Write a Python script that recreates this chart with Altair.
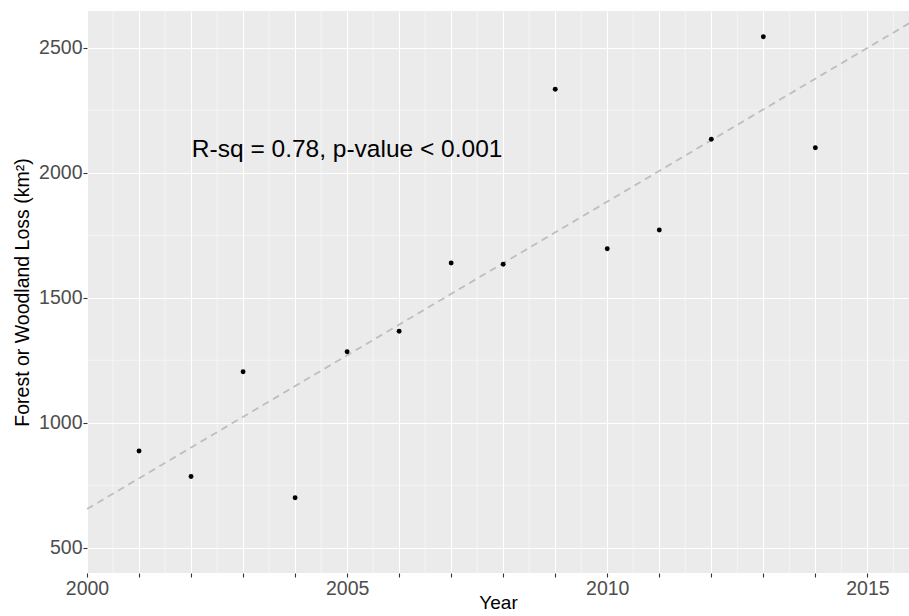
import altair as alt
import pandas as pd

# Data
years = [2001, 2002, 2003, 2004, 2005, 2006, 2007, 2008, 2009, 2010, 2011, 2012, 2013, 2014]
loss = [887, 785, 1204, 700, 1284, 1366, 1639, 1634, 2334, 1696, 1771, 2134, 2544, 2100]

x_domain = [2000, 2015.8]
y_domain = [399, 2647]
x_major = list(range(2000, 2016))
x_minor = [y + 0.5 for y in range(2000, 2016)]
y_major = [500, 1000, 1500, 2000, 2500]
y_minor = [750, 1250, 1750, 2250]

annot_text = ["R-sq = 0.78, p-value < 0.001"]
annot_x = [2005]
annot_y = [2090]

df = pd.DataFrame({"Year": years, "Loss": loss})
xminor_df = pd.DataFrame({"v": x_minor})
yminor_df = pd.DataFrame({"v": y_minor})
annot_df = pd.DataFrame({"t": annot_text, "x": annot_x, "y": annot_y})

FONT = "Liberation Sans"

xscale = alt.Scale(domain=x_domain, nice=False, zero=False)
yscale = alt.Scale(domain=y_domain, nice=False, zero=False)

xaxis = alt.Axis(
    values=x_major,
    labelExpr="datum.value % 5 == 0 ? datum.label : ''",
    format="d",
    grid=True, gridColor="white", gridWidth=1.1,
    domain=False, ticks=True, tickSize=4, tickColor="#333333", tickWidth=1.1,
    labelColor="#4D4D4D", labelFontSize=19.5, labelFont=FONT, labelPadding=2,
    labelFlush=False, labelOverlap=False,
    title="Year", titleFont=FONT, titleFontSize=19, titleFontWeight="normal",
    titleColor="black", titlePadding=-4,
)
yaxis = alt.Axis(
    values=y_major,
    format="d",
    grid=True, gridColor="white", gridWidth=1.1,
    domain=False, ticks=True, tickSize=4, tickColor="#333333", tickWidth=1.1,
    labelColor="#4D4D4D", labelFontSize=19.5, labelFont=FONT, labelPadding=1,
    labelFlush=False,
    title="Forest or Woodland Loss (km²)", titleFont=FONT, titleFontSize=19.5,
    titleFontWeight="normal", titleColor="black", titlePadding=6,
)

base = alt.Chart(df)

points = base.mark_circle(size=24, color="black", opacity=1).encode(
    x=alt.X("Year:Q", scale=xscale, axis=xaxis),
    y=alt.Y("Loss:Q", scale=yscale, axis=yaxis),
)

fit = base.transform_regression(
    "Year", "Loss", extent=x_domain
).mark_line(color="#BEBEBE", strokeWidth=1.8, strokeDash=[7, 5], clip=True).encode(
    x=alt.X("Year:Q", scale=xscale),
    y=alt.Y("Loss:Q", scale=yscale),
)

xminor = alt.Chart(xminor_df).mark_rule(color="white", strokeWidth=0.5).encode(
    x=alt.X("v:Q", scale=xscale)
)
yminor = alt.Chart(yminor_df).mark_rule(color="white", strokeWidth=0.5).encode(
    y=alt.Y("v:Q", scale=yscale)
)

annot = alt.Chart(annot_df).mark_text(
    font=FONT, fontSize=24.5, color="black", align="center", baseline="middle"
).encode(
    x=alt.X("x:Q", scale=xscale),
    y=alt.Y("y:Q", scale=yscale),
    text="t:N",
)

chart = alt.layer(xminor, yminor, fit, points, annot).properties(
    width=822, height=562,
    autosize=alt.AutoSizeParams(type="none"),
    padding={"left": 87, "top": 11, "right": 0, "bottom": 43},
    background="white",
).configure_view(fill="#EBEBEB", stroke=None)

chart.save("out.html", embed_options={"renderer": "svg", "actions": False})
